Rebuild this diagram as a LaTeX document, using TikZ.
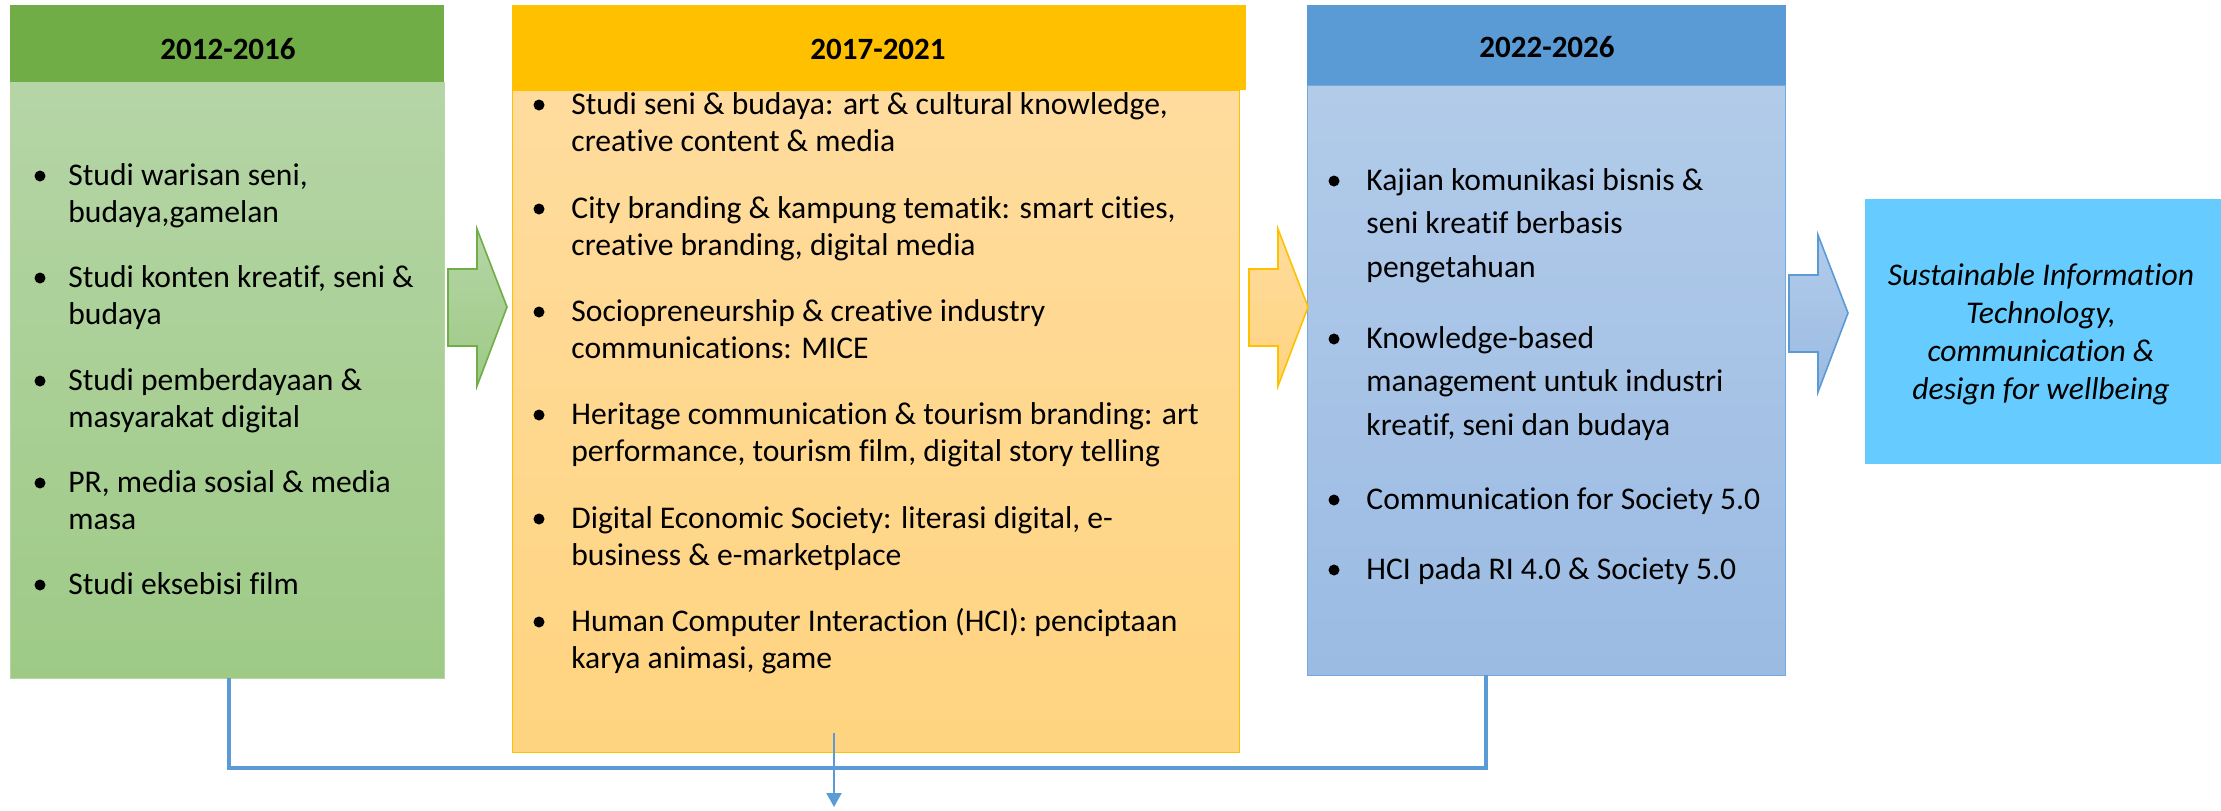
\documentclass[tikz,border=0pt]{standalone}
\usepackage{fontspec}
\setmainfont[Ligatures=NoCommon]{Carlito}
\usetikzlibrary{arrows.meta}

\definecolor{greenhead}{HTML}{70AD47}
\definecolor{greentop}{HTML}{B5D5A6}
\definecolor{greenbot}{HTML}{9ECA86}
\definecolor{yellowhead}{HTML}{FFC000}
\definecolor{yellowtop}{HTML}{FFDC9E}
\definecolor{yellowbot}{HTML}{FFD480}
\definecolor{bluehead}{HTML}{5B9BD5}
\definecolor{bluetop}{HTML}{B2CBE9}
\definecolor{bluebot}{HTML}{9BBBE3}
\definecolor{cyanbox}{HTML}{66CCFF}

\newcommand{\lines}[1]{\begin{tabular}[t]{@{}l@{}}#1\end{tabular}}

\tikzset{
  year/.style={inner sep=0, font=\fontsize{15.5}{18}\selectfont\bfseries},
  item/.style={anchor=base west, inner sep=0, font=\fontsize{15.8}{18.5}\selectfont},
  wideitem/.style={item, font=\fontsize{15.8}{21.75}\selectfont},
  goal/.style={anchor=base, inner sep=0, font=\fontsize{15.8}{19.15}\selectfont\itshape},
  link/.style={draw=bluehead, line width=2pt},
  flow/.style={draw=bluehead, line width=1pt, -{Triangle[width=7.5pt,length=7pt]}},
}

\begin{document}
\begin{tikzpicture}[x=0.5pt,y=-0.5pt]
\useasboundingbox (0,0) rectangle (2221,810);

% 2012-2016
\shade[top color=greentop, bottom color=greenbot, draw=greenhead!50] (10,82) rectangle (444,678);
\fill[greenhead] (10,5) rectangle (444,82);
\node[year] (y1) at (228,49) {2012-2016};
\foreach \y/\t in {185/{Studi warisan seni,\\budaya,gamelan},
                   287/{Studi konten kreatif, seni \&\\budaya},
                   390/{Studi pemberdayaan \&\\masyarakat digital},
                   492/{PR, media sosial \& media\\masa},
                   594/{Studi eksebisi film}} {
  \fill (40,\y-9) circle (5.5);
  \node[item] (g\y) at (68,\y) {\lines{\t}};
}

% 2017-2021
\shade[top color=yellowtop, bottom color=yellowbot, draw=yellowhead] (512,90) rectangle (1239,752);
\fill[yellowhead] (512,5) rectangle (1246,90);
\node[year] (y2) at (878,49) {2017-2021};
\foreach \y/\t in {114/{Studi seni \& budaya: art \& cultural knowledge,\\creative content \& media},
                   218/{City branding \& kampung tematik: smart cities,\\creative branding, digital media},
                   321/{Sociopreneurship \& creative industry\\communications: MICE},
                   424/{Heritage communication \& tourism branding: art\\performance, tourism film, digital story telling},
                   528/{Digital Economic Society: literasi digital, e-\\business \& e-marketplace},
                   631/{Human Computer Interaction (HCI): penciptaan\\karya animasi, game}} {
  \fill (539,\y-9) circle (5.5);
  \node[item] (k\y) at (571,\y) {\lines{\t}};
}

% 2022-2026
\shade[top color=bluetop, bottom color=bluebot, draw=bluehead!85] (1307,85) rectangle (1785,675);
\fill[bluehead] (1307,5) rectangle (1786,85);
\node[year] (y3) at (1547,47) {2022-2026};
\foreach \y/\t in {190/{Kajian komunikasi bisnis \&\\seni kreatif berbasis\\pengetahuan},
                   348/{Knowledge-based\\management untuk industri\\kreatif, seni dan budaya},
                   509/{Communication for Society 5.0},
                   579/{HCI pada RI 4.0 \& Society 5.0}} {
  \fill (1334,\y-9) circle (5.5);
  \node[wideitem] (b\y) at (1366,\y) {\lines{\t}};
}

% goal
\fill[cyanbox] (1865,199) rectangle (2221,464);
\node[goal] (goal) at (2041,285) {\begin{tabular}[t]{@{}c@{}}Sustainable Information\\Technology,\\communication \&\\design for wellbeing\end{tabular}};

% block arrows
\foreach \x/\y/\a/\b/\c in {448/229/greentop/greenbot/greenhead,
                            1249/229/yellowtop/yellowbot/yellowhead,
                            1789/235/bluetop/bluebot/bluehead} {
  \shade[top color=\a, bottom color=\b, draw=\c, line width=0.8pt]
    (\x,\y+40) -- (\x+29,\y+40) -- (\x+29,\y) -- (\x+59,\y+78)
    -- (\x+29,\y+157) -- (\x+29,\y+117) -- (\x,\y+117) -- cycle;
}

% connector
\coordinate (gout) at (229,678);
\coordinate (bout) at (1486,675);
\coordinate (hub) at (834,733);
\coordinate (out) at (834,807);
\draw[link] (gout) -- ++(0,90) -| (bout);
\draw[flow] (hub) -- (out);
\end{tikzpicture}
\end{document}
